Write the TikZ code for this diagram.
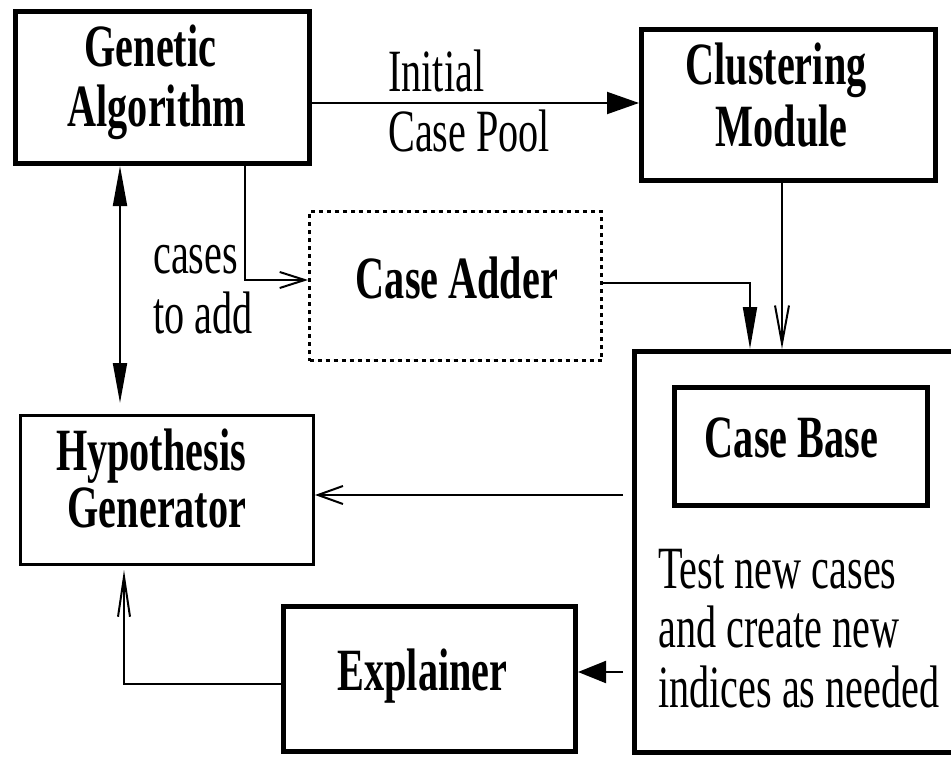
\documentclass[tikz,border=0pt]{standalone}
\usepackage{fontspec}
\setmainfont{Liberation Serif}[FakeStretch=0.67]
\usetikzlibrary{arrows.meta}
\begin{document}
\begin{tikzpicture}[x=1pt,y=-1pt,
  box/.style={draw, inner sep=0pt, line width=5pt},
  thinbox/.style={draw, inner sep=0pt, line width=3pt},
  dashbox/.style={draw, inner sep=0pt, line width=3pt, dash pattern=on 4pt off 4pt},
  lbl/.style={inner sep=0pt, font=\fontsize{60}{60}\selectfont},
  blbl/.style={inner sep=0pt, font=\fontsize{60}{60}\selectfont\bfseries},
  conn/.style={line width=2pt},
  solidtip/.style={-{Triangle[length=#1]}},
]
\useasboundingbox (0,0) rectangle (951,757);
\clip (0,0) rectangle (951,757);

% boxes
\node[box, minimum width=294pt, minimum height=152pt] (ga) at (162.5,87.5) {};
\node[box, minimum width=294pt, minimum height=151pt] (cm) at (788.5,105) {};
\node[dashbox, minimum width=292pt, minimum height=149pt] (ca) at (455.5,286) {};
\node[thinbox, minimum width=293pt, minimum height=149pt] (hg) at (167,490) {};
\node[box, minimum width=292pt, minimum height=145pt] (ex) at (429.5,679) {};
\node[box, minimum width=338pt, minimum height=401pt] (cbo) at (803.5,552) {};
\node[box, minimum width=253pt, minimum height=118pt] (cbi) at (801,446.5) {};

% labels
\node[blbl, anchor=base] (ga1) at (150.5,67) {Genetic};
\node[blbl, anchor=base] (ga2) at (157,127) {Algorithm};
\node[blbl, anchor=base] (cm1) at (776,85) {Clustering};
\node[blbl, anchor=base] (cm2) at (781.5,147) {Module};
\node[blbl, anchor=base] (ca1) at (457,298) {Case Adder};
\node[blbl, anchor=base] (hg1) at (151,470) {Hypothesis};
\node[blbl, anchor=base] (hg2) at (157,527) {Generator};
\node[blbl, anchor=base] (cb1) at (791.5,457) {Case Base};
\node[blbl, anchor=base] (ex1) at (422.5,690) {Explainer};

\node[lbl, anchor=base west] (icp1) at (388,92) {Initial};
\node[lbl, anchor=base west] (icp2) at (388,152) {Case Pool};
\node[lbl, anchor=base west] (add1) at (153,273) {cases};
\node[lbl, anchor=base west] (add2) at (153,333) {to add};
\node[lbl, anchor=base west] (tn1) at (658,588) {Test new cases};
\node[lbl, anchor=base west] (tn2) at (658,647) {and create new};
\node[lbl, anchor=base west] (tn3) at (658,707) {indices as needed};

% connector end points on the box borders
\coordinate (icp) at ([yshift=-15.5pt]ga.east);
\coordinate (addsrc) at ([xshift=82.5pt]ga.south);
\coordinate (addin) at ([yshift=6pt]ca.west);
\coordinate (gahg) at ([xshift=-42.5pt]ga.south);
\coordinate (caout) at ([yshift=3pt]ca.east);
\coordinate (cbin) at ([xshift=-53.5pt]cbo.north);
\coordinate (cmout) at ([xshift=-6.5pt]cm.south);
\coordinate (hgin) at ([yshift=-5pt]hg.east);
\coordinate (exin) at ([yshift=7pt]ex.east);
\coordinate (exout) at ([yshift=-5pt]ex.west);
\coordinate (hgin2) at ([xshift=-43pt]hg.south);

% connectors
\draw[conn, -{Triangle[length=32pt,width=22pt]}] (icp) -- (icp -| cm.west);
\draw[conn, -{Straight Barb[length=25pt,width=16pt]}] (addsrc) |- (addin);
\draw[conn, {Triangle[length=40pt,width=14pt]}-{Triangle[length=40pt,width=14pt]}, shorten >=11pt]
  (gahg) -- (gahg |- hg.north);
\draw[conn, -{Triangle[length=42pt,width=14pt]}] (caout) -| (cbin);
\draw[conn, -{Straight Barb[length=38pt,width=14pt]}] (cmout) -- (cmout |- cbo.north);
\draw[conn, -{Straight Barb[length=25pt,width=18pt]}, shorten <=9pt] (hgin -| cbo.west) -- (hgin);
\draw[conn, -{Triangle[length=28pt,width=22pt]}, shorten <=9pt] (exin -| cbo.west) -- (exin);
\draw[conn, -{Straight Barb[length=40pt,width=12pt]}, shorten >=4pt] (exout) -| (hgin2);
\end{tikzpicture}
\end{document}
